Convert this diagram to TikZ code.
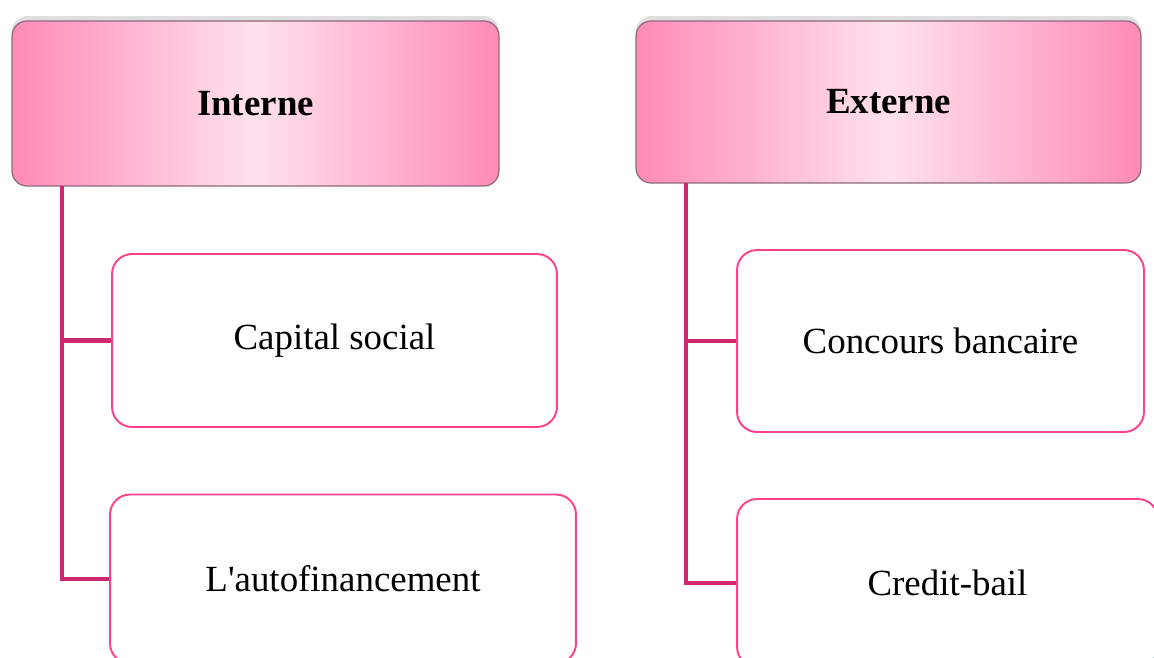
\documentclass[tikz,border=0pt]{standalone}
\usepackage{fontspec}
\setmainfont{Liberation Serif}
\usetikzlibrary{shadows}
\definecolor{hdrdark}{RGB}{255,138,182}
\definecolor{hdrlight}{RGB}{255,226,237}
\definecolor{hdrline}{RGB}{140,105,122}
\definecolor{trunkcol}{RGB}{208,40,110}
\definecolor{boxline}{RGB}{255,64,140}
\tikzset{
  header/.style={draw=hdrline, line width=0.7pt, rounded corners=0.3cm,
    left color=hdrdark, right color=hdrdark, middle color=hdrlight,
    drop shadow={shadow xshift=0pt, shadow yshift=0.1cm, opacity=0.25},
    font=\fontsize{21}{25}\selectfont\bfseries},
  item/.style={draw=boxline, line width=1.1pt, rounded corners=0.4cm, fill=white,
    font=\fontsize{21}{25}\selectfont},
  trunk/.style={draw=trunkcol, line width=2.8pt}
}
\begin{document}
\begin{tikzpicture}[x=0.02cm,y=-0.02cm]
  \useasboundingbox (0,0) rectangle (1154,657);
  \clip (0,0) rectangle (1154,657);
  % headers
  \node[header, minimum width=9.74cm, minimum height=3.3cm] (int) at (255.5,103.5) {Interne};
  \node[header, minimum width=10.1cm, minimum height=3.24cm] (ext) at (888.5,102) {Externe};
  % items
  \node[item, minimum width=8.9cm, minimum height=3.46cm] (cap) at (334.5,340.5) {Capital social};
  \node[item, minimum width=9.32cm, minimum height=3.38cm] (auto) at (343,579) {L\textquotesingle autofinancement};
  \node[item, minimum width=8.14cm, minimum height=3.64cm] (conc) at (940.5,341) {Concours bancaire};
  \node[item, minimum width=8.42cm, minimum height=3.36cm] (cred) at (947.5,583) {Credit-bail};
  % trunks
  \coordinate (introot) at (62,186);
  \coordinate (extroot) at (686,183);
  \draw[trunk] (introot) |- (auto.west);
  \draw[trunk] (introot |- cap.west) -- (cap.west);
  \draw[trunk] (extroot) |- (cred.west);
  \draw[trunk] (extroot |- conc.west) -- (conc.west);
\end{tikzpicture}
\end{document}
